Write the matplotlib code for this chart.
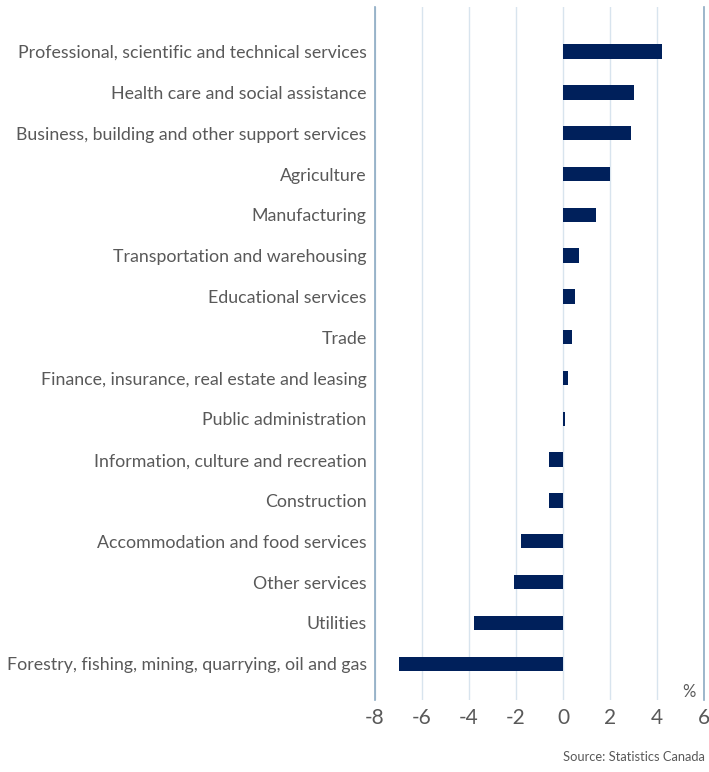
import matplotlib
matplotlib.use('Agg')
import matplotlib.pyplot as plt

# Employment change by industry, %
industries = [
    'Professional, scientific and technical services',
    'Health care and social assistance',
    'Business, building and other support services',
    'Agriculture',
    'Manufacturing',
    'Transportation and warehousing',
    'Educational services',
    'Trade',
    'Finance, insurance, real estate and leasing',
    'Public administration',
    'Information, culture and recreation',
    'Construction',
    'Accommodation and food services',
    'Other services',
    'Utilities',
    'Forestry, fishing, mining, quarrying, oil and gas',
]
change = [4.2, 3.0, 2.9, 2.0, 1.4, 0.7, 0.5, 0.4, 0.2, 0.1,
          -0.6, -0.6, -1.8, -2.1, -3.8, -7.0]
xticks = [-8, -6, -4, -2, 0, 2, 4, 6]

text_color = '#595959'
plt.rcParams['font.family'] = ['Lato', 'DejaVu Sans']

fig = plt.figure(figsize=(7.09, 7.72), dpi=100)
ax = fig.add_axes([0.529, 0.0933, 0.464, 0.898])

ypos = list(range(len(industries)))
ax.barh(ypos, change, height=0.35, color='#00205B', zorder=3)

ax.set_xlim(-8, 6)
ax.set_ylim(15.89, -1.1)
ax.set_xticks(xticks)
ax.set_xticklabels([str(t) for t in xticks], fontsize=15, color=text_color)
ax.set_yticks(ypos)
ax.set_yticklabels(industries, fontsize=12.8, color=text_color)
ax.tick_params(axis='both', length=0)
ax.tick_params(axis='y', pad=6)
ax.tick_params(axis='x', pad=6)

ax.grid(axis='x', color='#D8E4EE', linewidth=1, zorder=0)
for side in ['top', 'bottom']:
    ax.spines[side].set_visible(False)
for side in ['left', 'right']:
    ax.spines[side].set_color('#8CAAC2')
    ax.spines[side].set_linewidth(1.2)

ax.text(0.975, 0.0, '%', transform=ax.transAxes, ha='right', va='bottom',
        fontsize=12, color=text_color)
fig.text(0.994, 0.012, 'Source: Statistics Canada', ha='right', va='bottom',
         fontsize=9.3, color=text_color)

fig.savefig('out.png', dpi=100)
